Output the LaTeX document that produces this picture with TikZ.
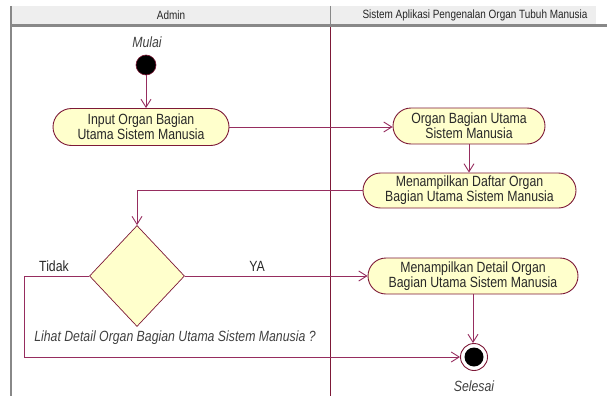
\documentclass[tikz,border=0pt]{standalone}
\usepackage{fontspec}
\setmainfont{Liberation Sans}[FakeStretch=0.83]
\usetikzlibrary{arrows.meta,shapes.misc,shapes.geometric}

\definecolor{lanegray}{RGB}{136,136,136}
\definecolor{headbg}{RGB}{238,238,238}
\definecolor{flowline}{RGB}{150,45,95}
\definecolor{actborder}{RGB}{125,25,55}
\definecolor{actfill}{RGB}{255,255,204}
\definecolor{inktext}{RGB}{40,40,40}

\tikzset{
  act/.style={rounded rectangle, draw=actborder, fill=actfill, line width=0.9pt,
    align=center, inner sep=0pt, text=inktext, font=\fontsize{14.8}{15}\selectfont},
  flow/.style={draw=flowline, line width=0.9pt,
    -{Straight Barb[length=8pt,width=10pt]}},
  lbl/.style={font=\fontsize{14.8}{15}\selectfont, inner sep=0pt, text=inktext},
  ilbl/.style={font=\fontsize{14.8}{15}\selectfont\itshape, inner sep=0pt, text=black!75},
  headtxt/.style={font=\fontsize{12}{12}\selectfont, inner sep=0pt, text=black!85},
}

\begin{document}
\begin{tikzpicture}[x=1pt,y=-1pt]
  \useasboundingbox (0,0) rectangle (607,396);

  % swimlane frame
  \fill[headbg] (11,6) rectangle (596,24);
  \fill[lanegray] (11,24) rectangle (607,27.5);
  \draw[lanegray, line width=1.5pt] (11,6) -- (11,396);
  \draw[lanegray, line width=1pt] (330,6) -- (330,24);
  \draw[actborder, line width=0.7pt] (330,27.5) -- (330,396);
  \node[headtxt] (laneA) at (171,15) {Admin};
  \node[headtxt] (laneB) at (475,15) {Sistem Aplikasi Pengenalan Organ Tubuh Manusia};

  % start and end nodes
  \node[circle, fill=black, draw=actborder, line width=0.6pt, minimum size=20pt, inner sep=0pt] (start) at (146,65) {};
  \node[ilbl] (mulai) at (147,42) {Mulai};
  \node[circle, fill=white, draw=actborder, line width=0.9pt, minimum size=27pt, inner sep=0pt] (end) at (474,357) {};
  \node[circle, fill=black, minimum size=19pt, inner sep=0pt] (endcore) at (end.center) {};
  \node[ilbl] (selesai) at (474,386) {Selesai};

  % activities
  \node[act, minimum width=176pt, minimum height=37pt] (a1) at (141,127) {Input Organ Bagian\\Utama Sistem Manusia};
  \node[act, minimum width=152pt, minimum height=36pt] (a2) at (469,126) {Organ Bagian Utama\\Sistem Manusia};
  \node[act, minimum width=213pt, minimum height=35pt] (a3) at (469.5,190.5) {Menampilkan Daftar Organ\\Bagian Utama Sistem Manusia};
  \node[act, minimum width=210pt, minimum height=36pt] (a4) at (473,276) {Menampilkan Detail Organ\\Bagian Utama Sistem Manusia};

  % decision
  \node[diamond, draw=actborder, fill=actfill, line width=0.7pt, minimum width=95pt, minimum height=101pt, inner sep=0pt] (dec) at (137,276) {};
  \node[lbl] (tidak) at (54,266) {Tidak};
  \node[lbl] (ya) at (257,266) {YA};
  \node[ilbl] (question) at (175,338) {Lihat Detail Organ Bagian Utama Sistem Manusia ?};
  \coordinate (tbend) at (24,276);

  % connectors
  \draw[flow] (start) -- (start |- a1.north);
  \draw[flow] (a1.east) -- (a1.east -| a2.west);
  \draw[flow] (a2.south) -- (a2.south |- a3.north);
  \draw[flow] (a3.west) -| (dec.north);
  \draw[flow] (dec.east) -- (a4.west);
  \draw[flow] (a4.south) -- (a4.south |- end.north);
  \draw[flow] (dec.west) -- (tbend) |- (end.west);
\end{tikzpicture}
\end{document}
